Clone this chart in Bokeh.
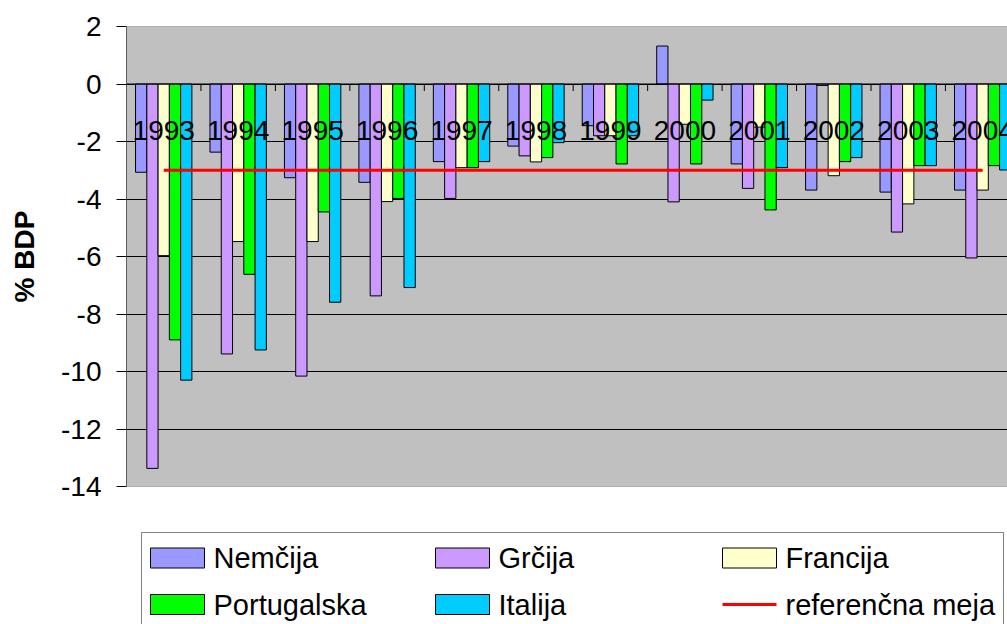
from bokeh.plotting import figure
from bokeh.layouts import column
from bokeh.models import Range1d, FixedTicker, Span
from bokeh.core.properties import value
from bokeh.embed import file_html
from bokeh.resources import INLINE

# Budget balance, % of GDP
years = ["1993", "1994", "1995", "1996", "1997", "1998",
         "1999", "2000", "2001", "2002", "2003", "2004"]
nemcija = [-3.07, -2.37, -3.26, -3.42, -2.70, -2.16, -1.45, 1.32, -2.78, -3.69, -3.76, -3.69]
grcija = [-13.37, -9.39, -10.16, -7.37, -3.98, -2.50, -1.80, -4.10, -3.63, -0.05, -5.15, -6.05]
francija = [-5.97, -5.48, -5.48, -4.09, -2.91, -2.71, -1.80, -1.40, -1.50, -3.19, -4.17, -3.69]
portugalska = [-8.90, -6.62, -4.45, -3.98, -2.91, -2.56, -2.78, -2.78, -4.38, -2.70, -2.84, -2.84]
italija = [-10.30, -9.25, -7.59, -7.08, -2.70, -2.04, -1.80, -0.56, -2.91, -2.56, -2.84, -2.99]
referencna_meja = [-3, -3, -3, -3, -3, -3, -3, -3, -3, -3, -3, -3]

series_names = ["Nemčija", "Grčija", "Francija", "Portugalska", "Italija"]
series_values = [nemcija, grcija, francija, portugalska, italija]
series_colors = ["#9999FF", "#CC99FF", "#FFFFCC", "#00FF00", "#00CCFF"]
ref_name = "referenčna meja"

y_ticks = [2, 0, -2, -4, -6, -8, -10, -12, -14]
y_tick_labels = ["2", "0", "-2", "-4", "-6", "-8", "-10", "-12", "-14"]
grid_ticks = [0, -2, -4, -6, -8, -10, -12]

FONT = "Liberation Sans"
W = 1007
FRAME_LEFT = 126
FRAME_TOP = 26
FRAME_H = 460
MAIN_H = 510
CAT_PX = 74.45                      # width of one year category in pixels
X_END = (W - FRAME_LEFT) / CAT_PX   # the frame runs off the right edge
Y_MIN, Y_MAX = -14, 2
PX_PER_UNIT = FRAME_H / (Y_MAX - Y_MIN)
BAR_W = 0.1514

n = len(years)
centers = [i + 0.5 for i in range(n)]

p = figure(width=W, height=MAIN_H,
           x_range=Range1d(0, X_END), y_range=Range1d(Y_MIN, Y_MAX),
           output_backend="svg", toolbar_location=None,
           x_axis_location=None,
           min_border_left=FRAME_LEFT, min_border_right=0,
           min_border_top=FRAME_TOP, min_border_bottom=MAIN_H - FRAME_TOP - FRAME_H,
           background_fill_color="#C0C0C0", border_fill_color="white",
           outline_line_color=None)

# value axis
ax = p.yaxis[0]
ax.ticker = FixedTicker(ticks=y_ticks)
ax.major_label_overrides = dict(zip(y_ticks, y_tick_labels))
ax.major_label_text_font = FONT
ax.major_label_text_font_size = "28px"
ax.major_label_text_color = "black"
ax.major_label_standoff = 15
ax.major_tick_out = 10
ax.major_tick_in = 0
ax.major_tick_line_color = "black"
ax.minor_tick_line_color = None
ax.axis_line_color = "#606060"
ax.axis_label = "% BDP"
ax.axis_label_text_font = FONT
ax.axis_label_text_font_size = "28px"
ax.axis_label_text_font_style = "bold"
ax.axis_label_text_color = "black"
ax.axis_label_standoff = 18

p.xgrid.visible = False
p.ygrid.ticker = FixedTicker(ticks=grid_ticks)
p.ygrid.grid_line_color = "black"
p.ygrid.grid_line_width = 1

# plot area border (top and bottom)
p.add_layout(Span(location=Y_MAX, dimension="width", line_color="#808080", line_width=1))
p.add_layout(Span(location=Y_MIN, dimension="width", line_color="#808080", line_width=1))

# grouped bars
for k, (name, vals, color) in enumerate(zip(series_names, series_values, series_colors)):
    xs = [c + (k - 2) * BAR_W for c in centers]
    p.vbar(x=xs, top=vals, bottom=0, width=BAR_W,
           fill_color=color, line_color="black", line_width=1)

# category axis line at zero with ticks between years
p.add_layout(Span(location=0, dimension="width", line_color="black", line_width=1))
bounds = list(range(1, n))
tick_len = 7 / PX_PER_UNIT
p.segment(x0=bounds, y0=[0] * len(bounds), x1=bounds, y1=[-tick_len] * len(bounds),
          line_color="black", line_width=1)

# reference limit
p.line(centers, referencna_meja, line_color="#FF0000", line_width=3)

# year labels sit just under the zero axis
label_y = -46 / PX_PER_UNIT
p.text(x=centers, y=[label_y] * n, text=years,
       text_font=value(FONT), text_font_size="28px", text_color="black",
       text_align="center", text_baseline="middle")

# legend panel (frame aligned with the chart frame, x in page pixels)
LEG_H = 624 - MAIN_H
lf = figure(width=W, height=LEG_H,
            x_range=Range1d(FRAME_LEFT, W), y_range=Range1d(624, MAIN_H),
            output_backend="svg", toolbar_location=None,
            x_axis_location=None, y_axis_location=None,
            min_border_left=FRAME_LEFT, min_border_right=0,
            min_border_top=0, min_border_bottom=0,
            outline_line_color=None,
            background_fill_color="white", border_fill_color="white")
lf.grid.visible = False

lf.quad(left=141, right=1003, top=532, bottom=700,
        fill_color="white", line_color="#808080", line_width=1)

col_x = [150, 435, 722]
row_mid = [557.5, 604]
SW_W, SW_H, TXT_GAP = 54, 20, 63

items = list(zip(series_names, series_colors)) + [(ref_name, None)]
for idx, (name, color) in enumerate(items):
    r, c = divmod(idx, 3)
    sx, cy = col_x[c], row_mid[r]
    if color is None:
        lf.segment(x0=[sx], y0=[cy], x1=[sx + SW_W], y1=[cy],
                   line_color="#FF0000", line_width=3)
    else:
        lf.quad(left=[sx], right=[sx + SW_W], top=[cy - SW_H / 2], bottom=[cy + SW_H / 2],
                fill_color=color, line_color="black", line_width=1)
    lf.text(x=[sx + TXT_GAP], y=[cy], text=[name],
            text_font=value(FONT), text_font_size="29px", text_color="black",
            text_align="left", text_baseline="middle")

layout = column(p, lf, spacing=0)

with open("out.html", "w") as f:
    f.write(file_html(layout, INLINE))
